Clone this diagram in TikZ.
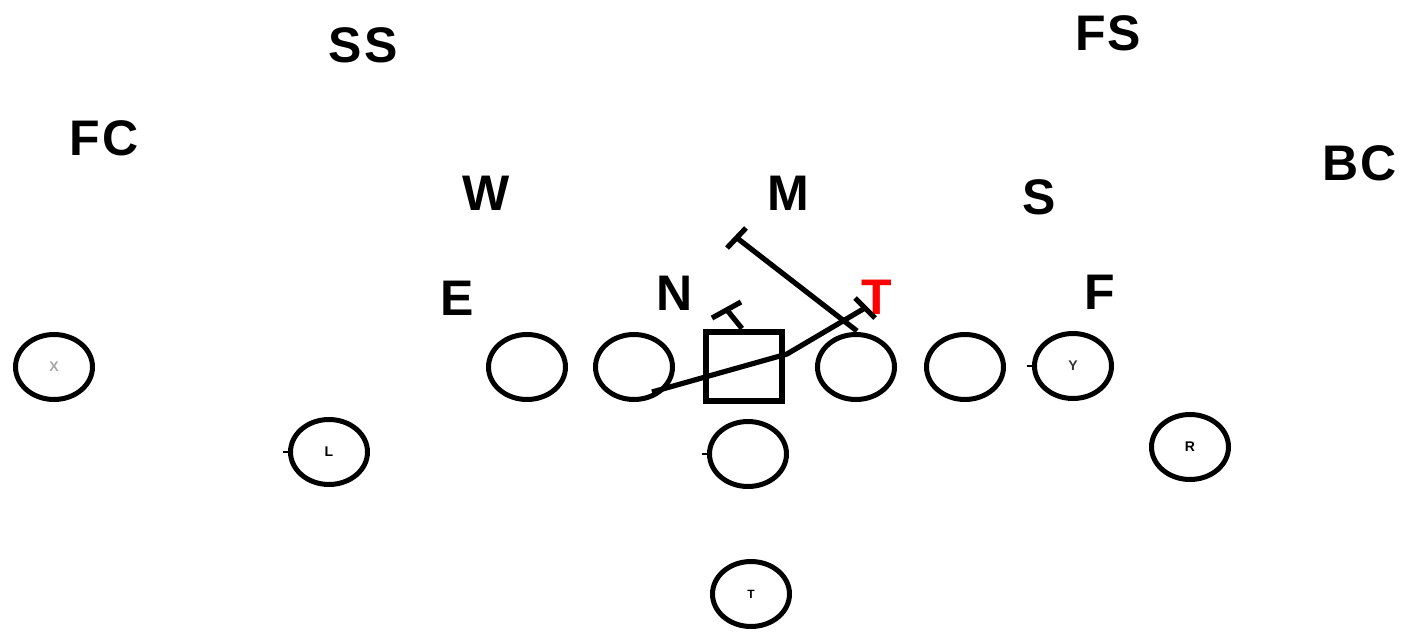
\documentclass[tikz,border=0pt]{standalone}
\usepackage{fontspec}
\setmainfont{Liberation Sans}
\usetikzlibrary{shapes.geometric}
\definecolor{callred}{RGB}{255,0,0}
\begin{document}
\begin{tikzpicture}[x=0.5pt,y=-0.5pt,
  player/.style={draw, ellipse, line width=2.5pt, minimum width=38.5pt,
    minimum height=32.5pt, inner sep=0pt, font=\bfseries\fontsize{7}{7}\selectfont},
  snapbox/.style={draw, rectangle, line width=3pt, minimum width=38pt,
    minimum height=34.5pt, inner sep=0pt},
  deflabel/.style={font=\bfseries\fontsize{25}{25}\selectfont, inner sep=0pt},
  block/.style={line width=2.6pt},
  nick/.style={line width=0.9pt}]
\useasboundingbox (0,0) rectangle (1405,633);

% defense
\node[deflabel] (ss) at (363,45) {S\kern1pt S};
\node[deflabel] (fs) at (1108,33) {F\kern1pt S};
\node[deflabel] (fc) at (104,138) {F\kern1pt C};
\node[deflabel] (bc) at (1360,163) {B\kern1pt C};
\node[deflabel] (w) at (486,193) {W};
\node[deflabel] (m) at (788,193) {M};
\node[deflabel] (s) at (1039,197) {S};
\node[deflabel] (e) at (457,298) {E};
\node[deflabel] (n) at (675,293) {N};
\node[deflabel, text=callred] (t) at (877,297) {T};
\node[deflabel] (f) at (1100,292) {F};

% offense
\node[player, text=gray!70] (x) at (54,367) {X};
\node[player] (lt) at (527,367) {};
\node[player] (lg) at (634,367) {};
\node[snapbox] (c) at (744,366) {};
\node[player] (rg) at (856,367) {};
\node[player] (rt) at (965,367) {};
\node[player, text=black!80] (y) at (1073,366) {Y};
\node[player] (l) at (329,452) {L};
\node[player] (r) at (1190,447) {R};
\node[player] (qb) at (748,454) {};
\node[player, font=\bfseries\fontsize{6}{6}\selectfont] (tb) at (751,594) {T};

% blocking paths
\coordinate (a0) at (857,331);
\coordinate (a1) at (737,238);
\coordinate (a1l) at (727,248);
\coordinate (a1r) at (746,228);
\draw[block] (a0) -- (a1);
\draw[block] (a1l) -- (a1r);

\coordinate (b0) at (652,392);
\coordinate (b1) at (787,354);
\coordinate (b2) at (865,308);
\coordinate (b2l) at (855,298);
\coordinate (b2r) at (875,318);
\draw[block] (b0) -- (b1) -- (b2);
\draw[block] (b2l) -- (b2r);

\coordinate (c1) at (727,310);
\coordinate (c1l) at (712,318);
\coordinate (c1r) at (741,302);
\draw[block] (c.north) ++(-2,0) coordinate (c0) (c0) -- (c1);
\draw[block] (c1l) -- (c1r);

% small nicks on the left of some circles
\draw[nick] (l.west) -- ++(-5,0);
\draw[nick] (y.west) -- ++(-5,0);
\draw[nick] (qb.west) -- ++(-5,0);
\end{tikzpicture}
\end{document}
